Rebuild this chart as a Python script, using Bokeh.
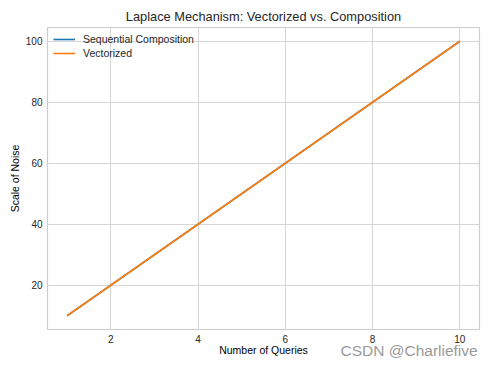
from bokeh.plotting import figure
from bokeh.models import Range1d, Label, Legend, LegendItem, FixedTicker
from bokeh.embed import file_html
from bokeh.resources import INLINE

queries = [1, 2, 3, 4, 5, 6, 7, 8, 9, 10]
sequential_scale = [10, 20, 30, 40, 50, 60, 70, 80, 90, 100]
vectorized_scale = [10, 20, 30, 40, 50, 60, 70, 80, 90, 100]
x_ticks = [2, 4, 6, 8, 10]
y_ticks = [20, 40, 60, 80, 100]

FONT = "Liberation Sans"

p = figure(frame_width=432, frame_height=302, output_backend="svg", toolbar_location=None,
           x_range=Range1d(0.55, 10.45), y_range=Range1d(5.5, 104.5),
           min_border_left=47, min_border_right=15, min_border_top=27, min_border_bottom=38)

p.title.text = "Laplace Mechanism: Vectorized vs. Composition"
p.title.align = "center"
p.title.text_font = FONT
p.title.text_font_size = "12.8px"
p.title.text_font_style = "normal"
p.title.text_color = "#262626"
p.title.standoff = 8

p.outline_line_color = "#cccccc"
p.outline_line_width = 1.2
p.background_fill_color = "white"
p.border_fill_color = "white"

for ax in (p.xaxis[0], p.yaxis[0]):
    ax.axis_line_color = None
    ax.major_tick_line_color = None
    ax.minor_tick_line_color = None
    ax.major_tick_out = 0
    ax.major_tick_in = 0
    ax.minor_tick_out = 0
    ax.minor_tick_in = 0
    ax.major_label_text_font = FONT
    ax.major_label_text_font_size = "10px"
    ax.major_label_text_color = "#262626"
    ax.axis_label_text_font = FONT
    ax.axis_label_text_font_size = "10.5px"
    ax.axis_label_text_font_style = "normal"
    ax.axis_label_text_color = "#000000"

p.xaxis.ticker = FixedTicker(ticks=x_ticks)
p.yaxis.ticker = FixedTicker(ticks=y_ticks)
p.xaxis.axis_label = "Number of Queries"
p.yaxis.axis_label = "Scale of Noise"
p.xaxis.major_label_standoff = 5
p.yaxis.major_label_standoff = 5
p.xaxis.axis_label_standoff = -2
p.yaxis.axis_label_standoff = 2

p.grid.grid_line_color = "#d6d6d6"
p.grid.grid_line_width = 1

r1 = p.line(queries, sequential_scale, line_color="#1f77b4", line_width=1.6)
r2 = p.line(queries, vectorized_scale, line_color="#ff7f0e", line_width=1.6)

legend = Legend(items=[LegendItem(label="Sequential Composition", renderers=[r1]),
                       LegendItem(label="Vectorized", renderers=[r2])],
                location="top_left")
legend.border_line_color = None
legend.background_fill_alpha = 0
legend.label_text_font = FONT
legend.label_text_font_size = "10.5px"
legend.label_text_color = "#262626"
legend.glyph_width = 22
legend.glyph_height = 12
legend.label_height = 12
legend.spacing = 2
legend.margin = 6
legend.padding = 3
legend.label_standoff = 8
p.add_layout(legend)

wm = Label(x=293, y=25, x_units="screen", y_units="screen",
           text="CSDN @Charliefive", text_font=FONT, text_font_size="15.5px",
           text_baseline="alphabetic", text_color="#9a9a9a")
p.add_layout(wm, "below")

open("out.html", "w").write(file_html(p, INLINE))
